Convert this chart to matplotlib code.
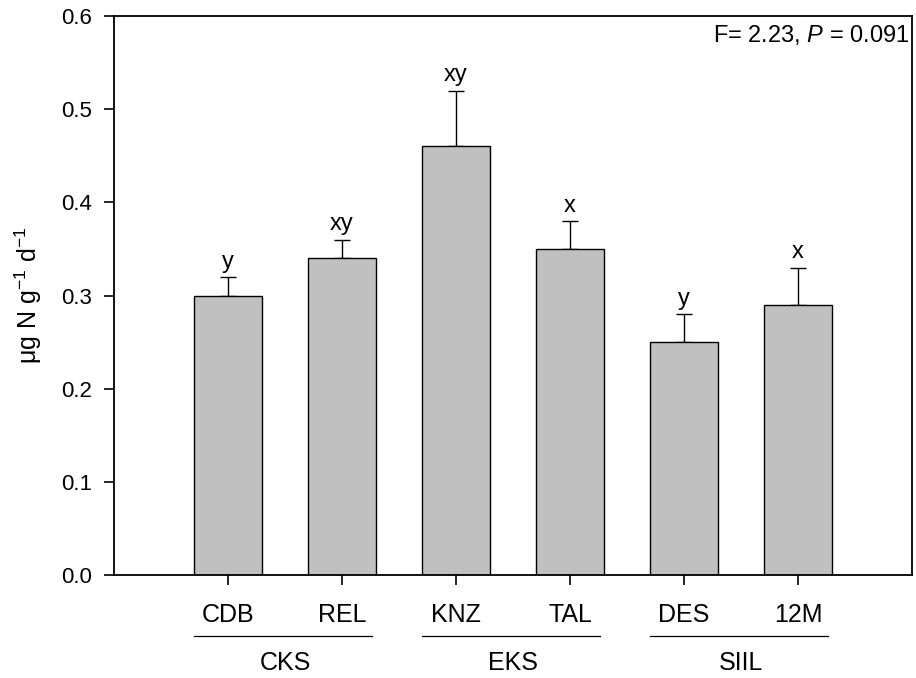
import numpy as np
import matplotlib
matplotlib.use('Agg')
import matplotlib.pyplot as plt
import matplotlib.transforms as mtransforms

plt.rcParams['font.family'] = ['Liberation Sans', 'DejaVu Sans']
plt.rcParams['mathtext.fontset'] = 'custom'
plt.rcParams['mathtext.rm'] = 'Liberation Sans'
plt.rcParams['mathtext.it'] = 'Liberation Sans:italic'

# Data
sites = ['CDB', 'REL', 'KNZ', 'TAL', 'DES', '12M']
means = [0.30, 0.34, 0.46, 0.35, 0.25, 0.29]
errors = [0.02, 0.02, 0.06, 0.03, 0.03, 0.04]
letters = ['y', 'xy', 'xy', 'x', 'y', 'x']
groups = ['CKS', 'EKS', 'SIIL']
group_members = [(0, 1), (2, 3), (4, 5)]

x = np.arange(1, len(sites) + 1)

fig = plt.figure(figsize=(9.16, 6.78), dpi=100)
ax = fig.add_axes([0.1245, 0.1519, 0.8711, 0.8245])

ax.bar(x, means, width=0.6, color='#c0c0c0', edgecolor='black', linewidth=1.0, zorder=2)
ax.errorbar(x, means, yerr=[np.zeros(len(errors)), errors], fmt='none',
            ecolor='black', elinewidth=1.0, capsize=5.8, capthick=1.0, zorder=1)

for xi, m, e, lab in zip(x, means, errors, letters):
    ax.annotate(lab, (xi, m + e), xytext=(0, 3), textcoords='offset points',
                ha='center', va='bottom', fontsize=17)

ax.set_xlim(0, 7)
ax.set_ylim(0, 0.6)
ax.set_yticks(np.arange(0, 0.61, 0.1))
ax.set_yticklabels([f'{v:.1f}' for v in np.arange(0, 0.61, 0.1)])
ax.set_xticks(x)
ax.set_xticklabels(sites)
ax.tick_params(axis='y', direction='out', length=7, width=1.2, labelsize=16, pad=9)
ax.tick_params(axis='x', direction='out', length=7, width=1.2, labelsize=18, pad=13)
for sp in ax.spines.values():
    sp.set_linewidth(1.3)

ax.set_ylabel('μg N g$^{-1}$ d$^{-1}$', fontsize=18, labelpad=12)

ax.text(0.997, 0.988, 'F= 2.23, $\\mathit{P}$ = 0.091', transform=ax.transAxes,
        ha='right', va='top', fontsize=17)

# group lines and labels below the axis
trans = mtransforms.blended_transform_factory(ax.transData, ax.transAxes)
for g, (i0, i1) in zip(groups, group_members):
    ax.plot([x[i0] - 0.3, x[i1] + 0.26], [-0.109, -0.109], color='black',
            linewidth=0.9, transform=trans, clip_on=False)
    ax.text((x[i0] + x[i1]) / 2, -0.157, g, transform=trans, ha='center',
            va='center', fontsize=18)

plt.savefig('out.png', dpi=100)
